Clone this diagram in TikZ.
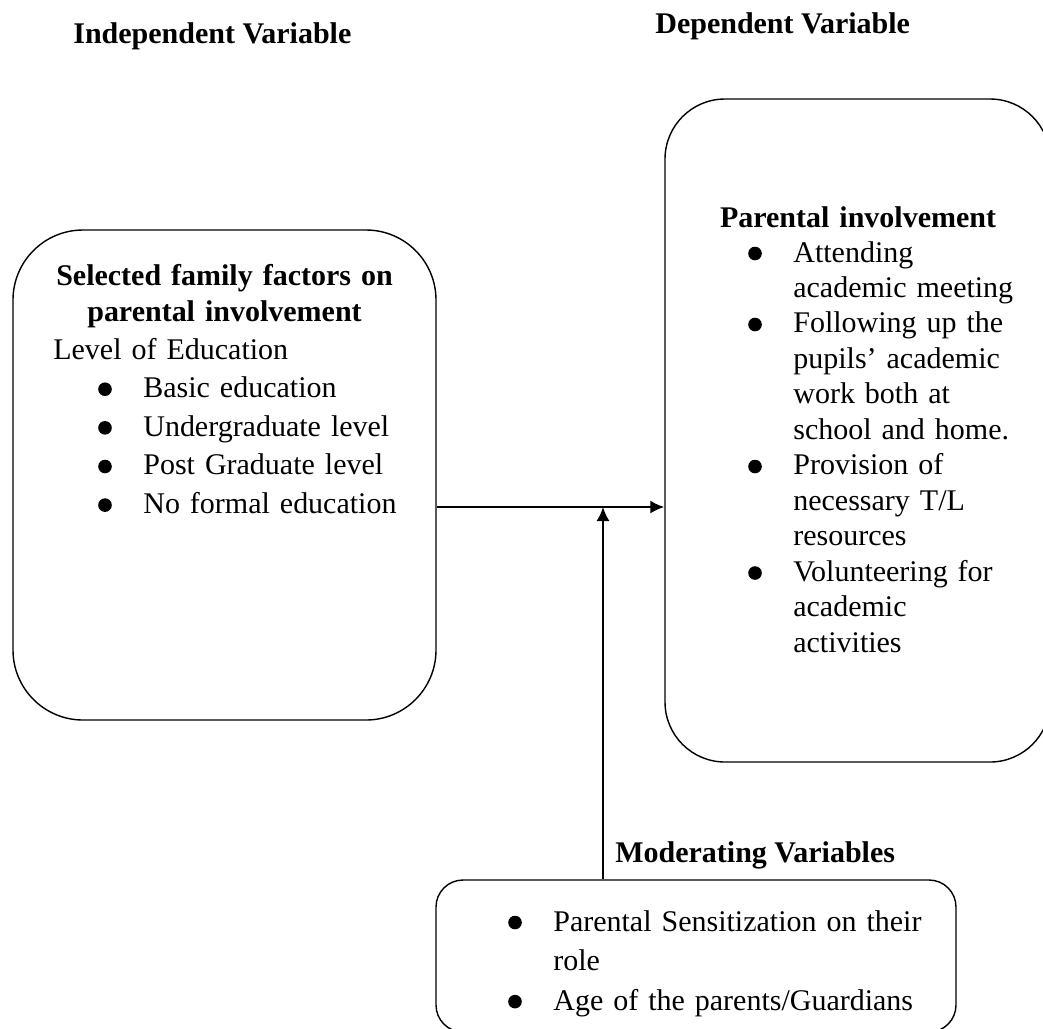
\documentclass[tikz,border=0pt]{standalone}
\usepackage{fontspec}
\setmainfont{Liberation Serif}
\usepackage{tikz}
\usetikzlibrary{arrows.meta}

\newlength\pixl
\setlength\pixl{0.02cm}
\newcommand\hang{\hspace*{45\pixl}}

\begin{document}
\begin{tikzpicture}[x=0.02cm, y=-0.02cm,
    box/.style={draw, line width=0.8pt, inner sep=0pt},
    link/.style={-{Latex[length=8pt,width=7.5pt]}, line width=1.2pt},
    bulletdot/.style={fill=black},
    ttl/.style={font=\fontsize{17.07}{21}\selectfont\bfseries, inner sep=0pt},
    txt/.style={inner sep=0pt, anchor=base west, align=left}]
    \useasboundingbox (0,0) rectangle (1043,1028);
    \clip (0,0) rectangle (1043,1028);
    % headings
    \node[ttl, anchor=base west] (ivar) at (73,43) {Independent Variable};
    \node[ttl, anchor=base west] (dvar) at (655,33) {Dependent Variable};
    \node[ttl, anchor=base west] (mvar) at (615,862) {Moderating Variables};
    % the three boxes
    \node[box, minimum width=423*\pixl, minimum height=490*\pixl,
          rounded corners=70*\pixl] (indep) at (224.5,475) {};
    \node[box, minimum width=385*\pixl, minimum height=663*\pixl,
          rounded corners=60*\pixl] (dep) at (857.5,430.5) {};
    \node[box, minimum width=520*\pixl, minimum height=152*\pixl,
          rounded corners=27*\pixl] (mod) at (696,956) {};
    % independent variable
    \node[ttl, text width=400*\pixl, align=center, anchor=base] (indephd) at (224.5,285)
        {Selected family factors on\\ parental involvement};
    \node[txt, text width=380*\pixl, font=\fontsize{17.07}{22}\selectfont] (indeplist) at (53,359)
        {Level of Education\\
         \hang\hang Basic education\\
         \hang\hang Undergraduate level\\
         \hang\hang Post Graduate level\\
         \hang\hang No formal education};
    \foreach \y in {397.7,436.3,475,513.6}
        \fill[bulletdot] (105,\y-8.5) circle[radius=6.8*\pixl];
    % dependent variable
    \node[ttl, text width=370*\pixl, align=center, anchor=base] (dephd) at (858,227)
        {Parental involvement};
    \node[txt, text width=295*\pixl, font=\fontsize{17.07}{20.2}\selectfont] (deplist) at (748,262)
        {\hang Attending\\
         \hang academic meeting\\
         \hang Following up the\\
         \hang pupils' academic\\
         \hang work both at\\
         \hang school and home.\\
         \hang Provision of\\
         \hang necessary T/L\\
         \hang resources\\
         \hang Volunteering for\\
         \hang academic\\
         \hang activities};
    \foreach \y in {262,333,475,581.5}
        \fill[bulletdot] (755,\y-8.5) circle[radius=6.8*\pixl];
    % moderating variables
    \node[txt, text width=430*\pixl, font=\fontsize{17.07}{22.5}\selectfont] (modlist) at (508,931)
        {\hang\makebox[373\pixl][s]{Parental Sensitization on their}\\
         \hang role\\
         \hang Age of the parents/Guardians};
    \foreach \y in {931,1010.1}
        \fill[bulletdot] (515,\y-8.5) circle[radius=6.8*\pixl];
    % connectors
    \coordinate (meet) at (603,507);
    \draw[link] (indep.east |- meet) -- (dep.west |- meet);
    \draw[link] (mod.north -| meet) -- (meet);
\end{tikzpicture}
\end{document}
